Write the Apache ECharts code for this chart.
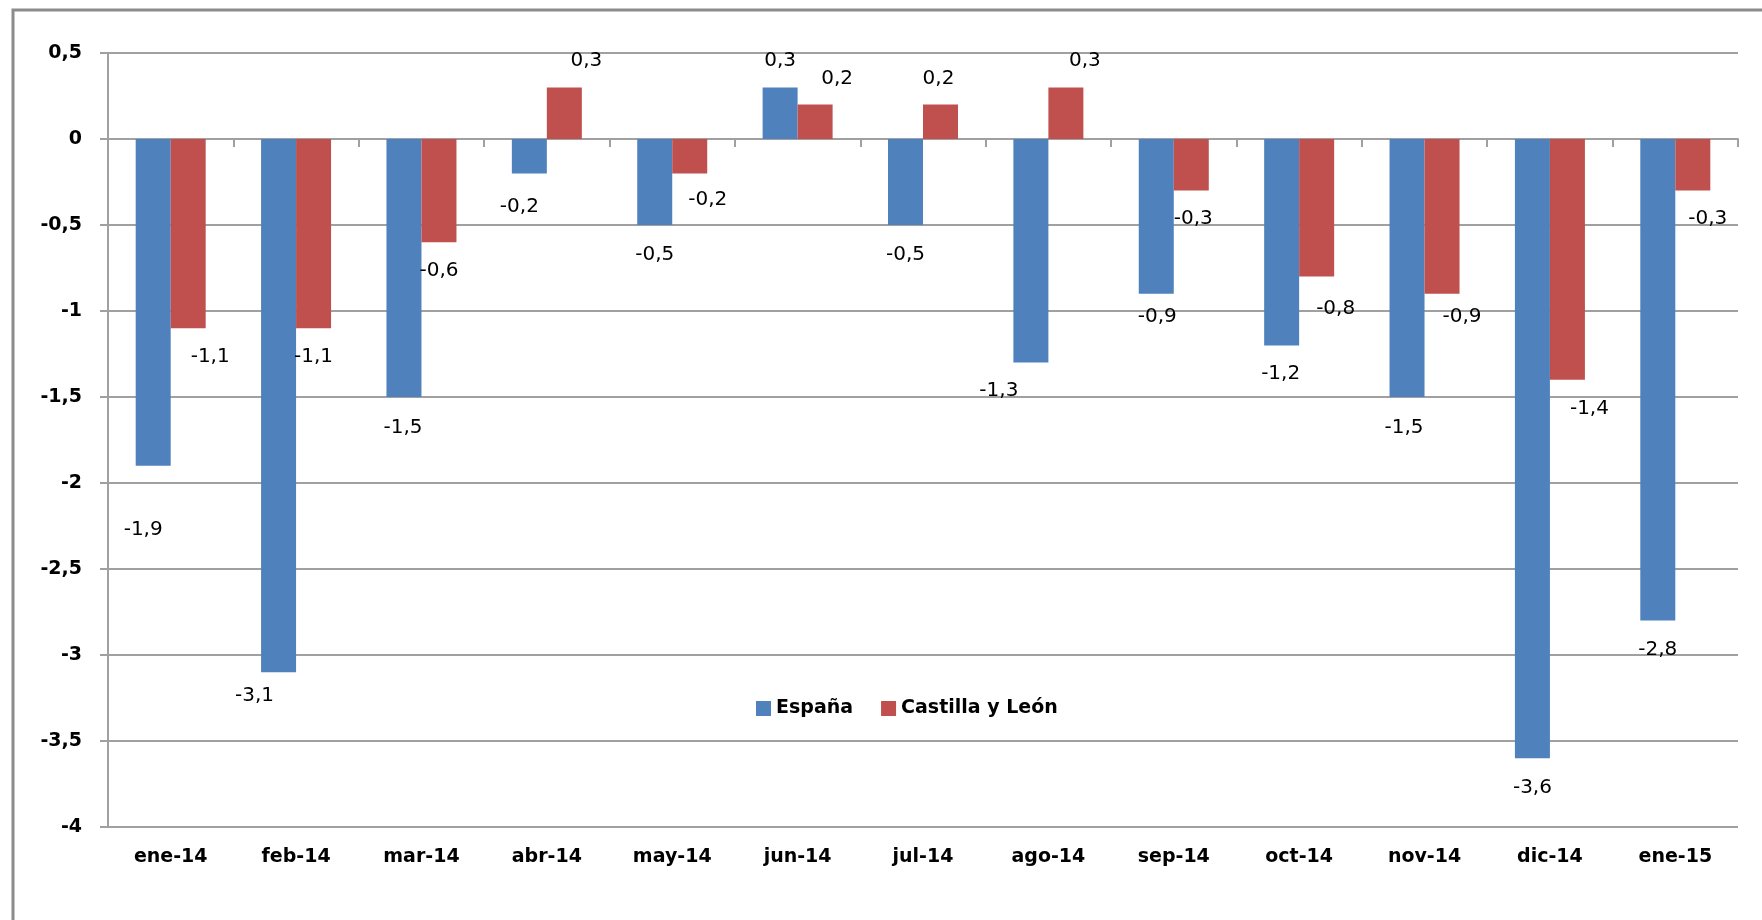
<!DOCTYPE html>
<html>
<head>
<meta charset="UTF-8">
<title>España / Castilla y León</title>
<script src="https://cdn.jsdelivr.net/npm/echarts@6/dist/echarts.min.js"></script>
<style>
    html, body { margin: 0; padding: 0; background: #fff; }
    #chart1 { width: 1762px; height: 920px; }
</style>
</head>
<body>
<div id="chart1"></div>
<script type="text/javascript">
var chart1 = echarts.init(document.getElementById('chart1'));

// meses
var months = ['ene-14', 'feb-14', 'mar-14', 'abr-14', 'may-14', 'jun-14', 'jul-14',
    'ago-14', 'sep-14', 'oct-14', 'nov-14', 'dic-14', 'ene-15'];
var espana = [-1.9, -3.1, -1.5, -0.2, -0.5, 0.3, -0.5, -1.3, -0.9, -1.2, -1.5, -3.6, -2.8];
var castilla = [-1.1, -1.1, -0.6, 0.3, -0.2, 0.2, 0.2, 0.3, -0.3, -0.8, -0.9, -1.4, -0.3];

// desplazamiento de etiquetas (como estaban colocadas a mano)
var shiftEspana = [[-10, 53], [-24, 13], [-1, 20], [-10, 22], [0, 19], [0, -16], [0, 19],
    [-32, 17], [1, 12], [-1, 17], [-3, 20], [0, 19], [0, 18]];
var shiftCastilla = [[22, 18], [0, 18], [0, 18], [22, -16], [18, 15], [22, -15], [-2, -15],
    [19, -16], [2, 17], [19, 21], [20, 12], [22, 18], [15, 17]];

var colors = ['#4F81BD', '#C0504D'];
var fontFamily = 'DejaVu Sans';

function fmt(v) {
    return String(v).replace('.', ',');
}

function buildData(values, shifts) {
    return values.map(function (v, i) {
        return {
            value: v,
            label: {
                position: v >= 0 ? 'top' : 'bottom',
                offset: shifts[i]
            }
        };
    });
}

function makeSeries(name, values, shifts, color) {
    return {
        name: name,
        type: 'bar',
        barWidth: 35,
        barGap: '0%',
        itemStyle: { color: color },
        label: {
            show: true,
            distance: 0,
            color: '#000',
            fontSize: 20,
            fontFamily: fontFamily,
            lineHeight: 22,
            formatter: function (p) { return fmt(p.value); }
        },
        data: buildData(values, shifts)
    };
}

var option = {
    backgroundColor: '#ffffff',
    animation: false,
    graphic: [{
        type: 'rect',
        shape: { x: 13, y: 10, width: 1800, height: 1000 },
        style: { fill: 'none', stroke: '#8c8c8c', lineWidth: 3 }
    }],
    legend: {
        left: 751,
        top: 694,
        icon: 'rect',
        itemWidth: 15,
        itemHeight: 15,
        itemGap: 28,
        textStyle: { fontSize: 19, fontWeight: 'bold', fontFamily: fontFamily, color: '#000' }
    },
    grid: { left: 108, right: 24, top: 53, bottom: 93 },
    xAxis: [
        {
            type: 'category',
            data: months,
            axisLine: { onZero: true, lineStyle: { color: '#a0a0a0', width: 2 } },
            axisTick: { show: true, length: 8, lineStyle: { color: '#a0a0a0', width: 2 } },
            axisLabel: { show: false }
        },
        {
            type: 'category',
            data: months,
            position: 'bottom',
            axisLine: { show: false },
            axisTick: { show: false },
            axisLabel: {
                margin: 21,
                color: '#000',
                fontSize: 19,
                fontWeight: 'bold',
                fontFamily: fontFamily
            }
        }
    ],
    yAxis: {
        type: 'value',
        min: -4,
        max: 0.5,
        interval: 0.5,
        axisLine: { show: true, lineStyle: { color: '#a0a0a0', width: 2 } },
        axisTick: { show: true, length: 8, lineStyle: { color: '#a0a0a0', width: 2 } },
        splitLine: { lineStyle: { color: '#a0a0a0', width: 2 } },
        axisLabel: {
            margin: 26,
            color: '#000',
            fontSize: 19,
            fontWeight: 'bold',
            fontFamily: fontFamily,
            formatter: fmt
        }
    },
    series: [
        makeSeries('España', espana, shiftEspana, colors[0]),
        makeSeries('Castilla y León', castilla, shiftCastilla, colors[1])
    ]
};

chart1.setOption(option);
</script>
</body>
</html>
